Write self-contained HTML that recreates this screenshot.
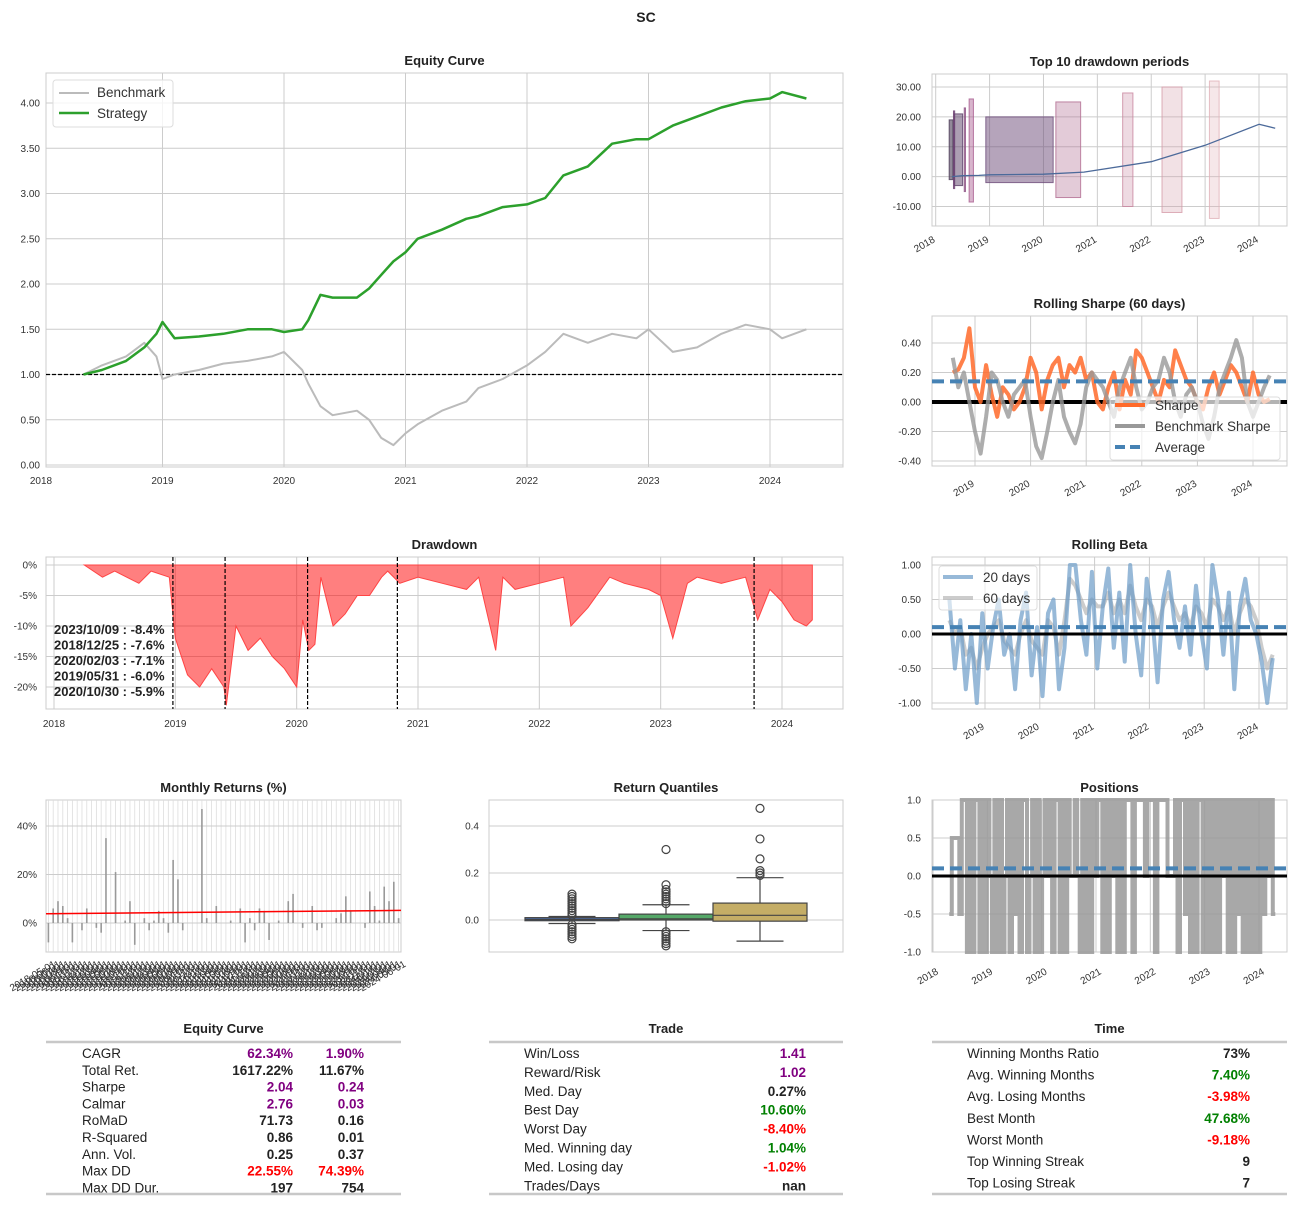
<!DOCTYPE html>
<html><head><meta charset="utf-8"><style>
html,body{margin:0;padding:0;background:#fff;}
svg{display:block;font-family:"Liberation Sans",Arial,sans-serif;}
.tk{font-size:10px;fill:#333;}
.tt{font-size:13px;font-weight:bold;fill:#222;}
.tb{font-size:13.5px;fill:#222;font-family:"Liberation Sans Narrow","Liberation Sans",sans-serif;}
.tbb{font-weight:bold;}
</style></head><body>
<svg id="s" width="1295" height="1205" viewBox="0 0 1295 1205" xmlns="http://www.w3.org/2000/svg">
<text x="646" y="22" text-anchor="middle" style="font-size:14px;font-weight:bold" fill="#222">SC</text>
</svg>
<script>
// ===== data =====
const yearTicks = [2018,2019,2020,2021,2022,2023,2024];
const eqDates = [2018.35,2018.5,2018.7,2018.85,2018.95,2019.0,2019.1,2019.3,2019.5,2019.7,2019.9,2020.0,2020.15,2020.2,2020.3,2020.4,2020.6,2020.7,2020.8,2020.9,2021.0,2021.1,2021.3,2021.5,2021.6,2021.8,2022.0,2022.15,2022.3,2022.5,2022.7,2022.9,2023.0,2023.2,2023.4,2023.6,2023.8,2024.0,2024.1,2024.3];
const eqStrategy = [1.0,1.05,1.15,1.3,1.45,1.58,1.4,1.42,1.45,1.5,1.5,1.47,1.5,1.6,1.88,1.85,1.85,1.95,2.1,2.25,2.35,2.5,2.6,2.72,2.75,2.85,2.88,2.95,3.2,3.3,3.55,3.6,3.6,3.75,3.85,3.95,4.02,4.05,4.12,4.05];
const eqBenchmark = [1.0,1.1,1.2,1.35,1.2,0.95,1.0,1.05,1.12,1.15,1.2,1.25,1.05,0.9,0.65,0.55,0.6,0.5,0.3,0.22,0.35,0.45,0.6,0.7,0.85,0.95,1.1,1.25,1.45,1.35,1.45,1.4,1.5,1.25,1.3,1.45,1.55,1.5,1.4,1.5];
const eqTicks = [0,0.5,1,1.5,2,2.5,3,3.5,4];

const ddDates = [2018.3,2018.5,2018.8,2019.0,2019.5,2020.0,2020.75,2022.0,2023.0,2024.0,2024.3];
const ddCum = [0,0.3,0.4,0.6,0.7,0.8,1.5,5,10.5,17.5,16.2];
const ddPeriodStart = [2018.25,2018.34,2018.33,2018.53,2018.62,2018.93,2020.23,2021.47,2022.2,2023.08];
const ddPeriodEnd = [2018.32,2018.5,2018.35,2018.55,2018.7,2020.18,2020.69,2021.66,2022.57,2023.26];
const ddPeriodLow = [-1,-3,-4,-5,-8.5,-2,-7,-10,-12,-14];
const ddPeriodHigh = [19,21,22,23,26,20,25,28,30,32];
const ddTicks = [-10,0,10,20,30];

const shStart = 2018.6, shStep = 0.1;
const sharpeStrat = [0.2,0.22,0.3,0.5,0.1,0.0,0.25,0.05,-0.1,0.1,0.05,-0.05,0.0,0.1,0.3,0.2,-0.05,0.15,0.25,0.3,0.1,0.25,0.2,0.3,0.15,0.2,0.0,-0.05,0.1,0.2,-0.05,0.15,0.05,0.35,0.3,0.2,0.1,0.0,0.15,0.1,0.35,0.25,0.15,0.1,0.0,-0.05,0.1,0.2,0.05,0.15,0.25,0.2,0.1,0.0,0.2,0.05,0.0,0.02];
const sharpeBench = [0.3,0.1,0.2,0.0,-0.2,-0.35,-0.1,0.2,0.15,0.0,-0.1,0.05,0.1,0.15,-0.1,-0.3,-0.38,-0.2,0.0,0.15,-0.1,-0.2,-0.28,-0.15,0.1,0.2,0.15,0.1,0.0,-0.1,0.1,0.2,0.3,0.1,-0.05,0.0,0.1,0.15,0.3,0.2,0.0,-0.1,0.05,0.1,0.0,-0.15,-0.25,-0.1,0.1,0.2,0.3,0.42,0.3,0.0,-0.1,0.0,0.1,0.18];
const sharpeAvg = 0.14;
const shTicks = [-0.4,-0.2,0,0.2,0.4];

const drawDates = [2018.25,2018.4,2018.5,2018.7,2018.8,2018.95,2019.0,2019.1,2019.2,2019.3,2019.4,2019.42,2019.5,2019.6,2019.7,2019.8,2019.9,2020.0,2020.05,2020.1,2020.15,2020.2,2020.3,2020.4,2020.5,2020.6,2020.7,2020.75,2020.85,2021.0,2021.2,2021.4,2021.5,2021.64,2021.7,2021.8,2022.0,2022.2,2022.26,2022.4,2022.58,2022.7,2022.9,2023.0,2023.1,2023.22,2023.3,2023.5,2023.7,2023.8,2023.9,2024.0,2024.1,2024.2,2024.25];
const drawValues = [0,-2,-1,-3,-1,-2,-12,-18,-20,-17,-20,-23,-10,-14,-12,-15,-17,-20,-9,-14,-13,-2,-10,-8,-5,-5,-2,-1,-3,-2,-3,-4,-2,-14,-2,-4,-3,-2,-10,-7,-2,-3,-4,-5,-12,-3,-2,-3,-2,-9,-4,-6,-9,-10,-9];
const drawMarks = [2018.98,2019.41,2020.09,2020.83,2023.77];
const drawLabels = ["2023/10/09 : -8.4%","2018/12/25 : -7.6%","2020/02/03 : -7.1%","2019/05/31 : -6.0%","2020/10/30 : -5.9%"];
const drawTicks = [0,-5,-10,-15,-20];

const betaStart = 2018.35, betaStep = 0.1;
const beta20 = [0.5,-0.5,0.2,-0.8,0.0,-1.0,0.3,-0.5,0.1,0.5,-0.3,0.0,-0.8,0.2,0.6,-0.6,0.1,-0.9,0.3,0.5,-0.8,-0.2,1.0,1.0,0.2,-0.3,0.9,-0.5,0.4,0.95,-0.2,0.6,-0.4,1.0,0.0,-0.6,0.8,0.3,-0.7,0.5,0.9,0.2,-0.2,0.4,-0.3,0.7,0.0,-0.5,1.0,0.5,-0.3,0.6,-0.8,0.4,0.8,0.2,0.0,-0.4,-1.0,-0.35];
const beta60 = [0.2,0.0,0.1,-0.3,-0.2,-0.5,-0.2,0.0,0.1,0.2,-0.1,-0.2,-0.3,0.0,0.2,-0.1,-0.2,-0.3,0.2,0.1,-0.3,0.2,0.8,0.7,0.5,0.3,0.5,0.4,0.4,0.6,0.3,0.5,0.3,0.7,0.4,0.2,0.5,0.4,0.1,0.4,0.6,0.4,0.2,0.3,0.1,0.4,0.3,0.1,0.5,0.4,0.2,0.4,0.0,0.3,0.5,0.4,0.2,-0.2,-0.5,-0.3];
const betaAvg = 0.1;
const betaTicks = [-1,-0.5,0,0.5,1];

const monthly = [-8,6,9,7,2,-8,0,-3,6,0,-2,-4,35,0,21,0,1,9,-9,0,2,-3,1,5,2,-4,26,18,-3,0,0,0,47,2,0,7,0,0,1,0,6,-8,2,-3,6,5,-7,0,1,0,9,12,0,-2,0,7,-3,-2,0,0,2,4,11,5,0,0,-2,13,7,1,15,9,17,2];
const monthlyTrendStart = 3.8, monthlyTrendEnd = 5.2;
const monthlyTicks = [0,20,40];

const qCats = ["Daily","Weekly","Monthly"];
const qLow = [-0.015,-0.045,-0.09];
const qQ1 = [-0.003,0.0,-0.005];
const qMed = [0.002,0.005,0.02];
const qQ3 = [0.01,0.025,0.072];
const qHigh = [0.015,0.065,0.18];
const qOutliers = [[-0.08,-0.07,-0.06,-0.05,-0.04,-0.03,-0.02,0.02,0.03,0.04,0.05,0.06,0.07,0.08,0.09,0.1,0.11],[-0.11,-0.1,-0.09,-0.08,-0.07,-0.06,-0.05,0.07,0.08,0.09,0.1,0.11,0.12,0.13,0.15,0.3],[0.19,0.2,0.21,0.26,0.345,0.475]];
const qTicks = [0,0.2,0.4];

const posStart = 2018.3, posEnd = 2024.3;
const positions = [-0.5,0.5,0.5,0.5,-0.5,1,1,-1,1,-1,1,1,-1,1,-1,1,0,-1,1,-1,1,-1,0,1,-1,1,-0.5,1,-1,1,1,-1,0,1,-1,1,-1,0,1,0,1,-1,1,1,-1,1,-1,1,0,0,1,0,-1,1,-1,1,-1,1,0,1,1,-1,1,-1,1,0,1,-1,1,-1,1,1,1,-1,1,1,1,1,0,1,1,1,-1,1,1,1,1,0,0,0,1,-1,1,1,-0.5,1,-1,1,-1,1,1,-1,1,-1,1,-1,1,-1,1,0,1,-1,1,-1,1,-0.5,1,-1,1,-1,1,-1,1,-1,1,-0.5,1,0,1,-0.5,-0.5];
const posAvg = 0.1;
const posTicks = [-1,-0.5,0,0.5,1];

// ===== helpers =====
const S = document.getElementById('s');
const NS = 'http://www.w3.org/2000/svg';
function mk(tag, attrs, parent){const e=document.createElementNS(NS,tag);for(const k in attrs)e.setAttribute(k,attrs[k]);(parent||S).appendChild(e);return e;}
function txt(x,y,s,cls,anchor,extra){const e=mk('text',Object.assign({x:x,y:y,class:cls,'text-anchor':anchor||'start'},extra||{}));e.textContent=s;return e;}
function lin(a,b,c,d,col,w,dash){const e=mk('line',{x1:a,y1:b,x2:c,y2:d,stroke:col,'stroke-width':w});if(dash)e.setAttribute('stroke-dasharray',dash);return e;}
function scale(d0,d1,r0,r1){return v=>r0+(v-d0)*(r1-r0)/(d1-d0);}
function poly(xs,ys,col,w,op,name,g){const p=xs.map((x,i)=>x.toFixed(1)+','+ys[i].toFixed(1)).join(' ');const e=mk('polyline',{points:p,fill:'none',stroke:col,'stroke-width':w,'stroke-opacity':op,'stroke-linejoin':'round'},g);return e;}
function frame(x0,y0,x1,y1,title,name){
  const g=mk('g',{});
  
  
  mk('rect',{x:x0,y:y0,width:x1-x0,height:y1-y0,fill:'#fff',stroke:'#ccc','stroke-width':1},g);
  const t=txt((x0+x1)/2,y0-8,title,'tt','middle');
  
  
  return g;
}

// ===== Equity curve =====
(function(){
  const g=frame(46,73,843,467,'Equity Curve','equity-curve-chart');
  const X=scale(2018,2024,41,770), Y=scale(0,4,465,103);
  yearTicks.forEach(t=>{if(X(t)>46)lin(X(t),73,X(t),467,'#ccc',1);const l=txt(X(t),484,String(t),'tk','middle');});
  eqTicks.forEach(t=>{lin(46,Y(t),843,Y(t),'#ccc',1);const l=txt(40,Y(t)+3.5,t.toFixed(2),'tk','end');});
  const b=lin(46,Y(1),843,Y(1),'#000',1.2,'4,2');
  const pb=poly(eqDates.map(X),eqBenchmark.map(Y),'#bbb',2,1);
  
  const ps=poly(eqDates.map(X),eqStrategy.map(Y),'#2ca02c',2.5,1);
  
  const lg=mk('g',{});
  mk('rect',{x:53,y:80,width:120,height:47,rx:3,fill:'#fff','fill-opacity':0.8,stroke:'#ddd'},lg);
  lin(59,93,89,93,'#bbb',2);lin(59,113,89,113,'#2ca02c',2.5);
  txt(97,97,'Benchmark','tk','start',{style:'font-size:13.5px'});txt(97,118,'Strategy','tk','start',{style:'font-size:13.5px'});
})();

// ===== Top 10 drawdown periods =====
(function(){
  frame(932,74,1287,226,'Top 10 drawdown periods','drawdown-periods-chart');
  const X=scale(2018,2024,935.7,1259), Y=scale(-10,30,206.5,87);
  yearTicks.forEach(t=>{lin(X(t),74,X(t),226,'#ccc',1);txt(X(t)-2,246,String(t),'tk','end',{transform:`rotate(-30 ${X(t)-2} 238)`,y:242});});
  ddTicks.forEach(t=>{lin(932,Y(t),1287,Y(t),'#ccc',1);txt(921,Y(t)+3.5,t.toFixed(2),'tk','end');});
  const cols=['#4a3a55','#5a3e66','#6a3f70','#8a4b80','#a85b8e','#6b4a78','#b06a90','#c8849e','#d49aa8','#e0b0b6'];
  const ops=[0.6,0.5,0.6,0.5,0.45,0.5,0.35,0.3,0.3,0.3];
  ddPeriodStart.forEach((s,i)=>{const r=mk('rect',{x:X(s),y:Y(ddPeriodHigh[i]),width:Math.max(1.2,X(ddPeriodEnd[i])-X(s)),height:Y(ddPeriodLow[i])-Y(ddPeriodHigh[i]),fill:cols[i],'fill-opacity':ops[i],stroke:cols[i],'stroke-opacity':0.8});});
  const p=poly(ddDates.map(X),ddCum.map(Y),'#4c6a9a',1.3,1);
})();

// ===== Rolling Sharpe =====
(function(){
  frame(932,316,1287,466,'Rolling Sharpe (60 days)','rolling-sharpe-chart');
  const X=scale(2019,2024,975,1253), Y=scale(-0.4,0.4,461,343);
  yearTicks.slice(1).forEach(t=>{lin(X(t),316,X(t),466,'#ccc',1);txt(X(t)-2,490,String(t),'tk','end',{transform:`rotate(-30 ${X(t)-2} 482)`,y:486});});
  shTicks.forEach(t=>{lin(932,Y(t),1287,Y(t),'#ccc',1);txt(921,Y(t)+3.5,t.toFixed(2),'tk','end');});
  const d=sharpeStrat.map((v,i)=>X(shStart+i*shStep));
  lin(932,Y(0),1287,Y(0),'#000',4);
  const a=poly(d,sharpeStrat.map(Y),'#ff6a2a',4,0.85);
  const b=poly(d,sharpeBench.map(Y),'#999',4,0.8);
  const av=lin(932,Y(sharpeAvg),1287,Y(sharpeAvg),'#4682b4',4,'12,6');
  const lg=mk('g',{});
  mk('rect',{x:1110,y:397,width:170,height:63,rx:3,fill:'#fff','fill-opacity':0.7,stroke:'#ddd'},lg);
  lin(1115,405,1145,405,'#ff6a2a',4);lin(1115,426,1145,426,'#999',4);lin(1115,447,1145,447,'#4682b4',4,'10,5');
  txt(1155,410,'Sharpe','tk','start',{style:'font-size:13.5px'});txt(1155,431,'Benchmark Sharpe','tk','start',{style:'font-size:13.5px'});txt(1155,452,'Average','tk','start',{style:'font-size:13.5px'});
})();

// ===== Drawdown =====
(function(){
  frame(46,557,843,709,'Drawdown','drawdown-chart');
  const X=scale(2018,2024,54,782), Y=scale(-20,0,687,565);
  yearTicks.forEach(t=>{lin(X(t),557,X(t),709,'#ccc',1);txt(X(t),727,String(t),'tk','middle');});
  drawTicks.forEach(t=>{lin(46,Y(t),843,Y(t),'#ccc',1);txt(37,Y(t)+3.5,t+'%','tk','end');});
  let d='M'+X(drawDates[0])+','+Y(0);
  drawDates.forEach((t,i)=>{d+=' L'+X(t).toFixed(1)+','+Y(drawValues[i]).toFixed(1);});
  d+=' L'+X(drawDates[drawDates.length-1])+','+Y(0)+' Z';
  const a=mk('path',{d:d,fill:'#ff0000','fill-opacity':0.5,stroke:'#ff4444','stroke-width':1});
  drawMarks.forEach(t=>{const l=lin(X(t),557,X(t),709,'#000',1.2,'4,2');});
  drawLabels.forEach((s,i)=>{const e=txt(54,634+i*15.5,s,'tk tbb','start',{style:'font-size:13px;fill:#222;font-weight:bold'});});
})();

// ===== Rolling Beta =====
(function(){
  frame(932,557,1287,709,'Rolling Beta','rolling-beta-chart');
  const X=scale(2019,2024,985,1259), Y=scale(-1,1,703,565);
  yearTicks.slice(1).forEach(t=>{lin(X(t),557,X(t),709,'#ccc',1);txt(X(t)-2,733,String(t),'tk','end',{transform:`rotate(-30 ${X(t)-2} 725)`,y:729});});
  betaTicks.forEach(t=>{lin(932,Y(t),1287,Y(t),'#ccc',1);txt(921,Y(t)+3.5,t.toFixed(2),'tk','end');});
  const d=beta20.map((v,i)=>X(betaStart+i*betaStep));
  const b=poly(d,beta60.map(Y),'#aaa',4,0.6);
  const a=poly(d,beta20.map(Y),'#6b9bc8',4,0.7);
  const av=lin(932,Y(betaAvg),1287,Y(betaAvg),'#4682b4',4,'12,6');
  lin(932,Y(0),1287,Y(0),'#000',3);
  const lg=mk('g',{});
  mk('rect',{x:939,y:566,width:98,height:44,rx:3,fill:'#fff','fill-opacity':0.6,stroke:'#ddd'},lg);
  lin(943,577,973,577,'#6b9bc8',4).setAttribute('stroke-opacity',0.7);lin(943,598,973,598,'#aaa',4).setAttribute('stroke-opacity',0.6);
  txt(983,582,'20 days','tk','start',{style:'font-size:13.5px'});txt(983,603,'60 days','tk','start',{style:'font-size:13.5px'});
})();

// ===== Monthly returns =====
(function(){
  frame(46,800,401,952,'Monthly Returns (%)','monthly-returns-chart');
  const n=monthly.length, w=355/n;
  const X=i=>46+w*(i+0.5), Y=scale(0,40,923,826);
  monthly.forEach((v,i)=>{lin(X(i),800,X(i),952,'#ddd',0.8);});
  monthlyTicks.forEach(t=>{lin(46,Y(t),401,Y(t),'#ccc',1);txt(37,Y(t)+3.5,t+'%','tk','end');});
  monthly.forEach((v,i)=>{const r=mk('rect',{x:X(i)-0.8,y:Math.min(Y(v),Y(0)),width:1.6,height:Math.abs(Y(v)-Y(0)),fill:'#999'});});
  const tl=lin(46,Y(monthlyTrendStart),401,Y(monthlyTrendEnd),'#ff0000',1.5);
  monthly.forEach((v,i)=>{const yr=2018+Math.floor((i+4)/12), mo=((i+4)%12)+1;const x=X(i)+8;txt(x,966,yr+'-'+(mo<10?'0':'')+mo+'-01','tk','end',{transform:`rotate(-30 ${x} 966)`,style:'font-size:10px;fill:#333'});});
})();

// ===== Return quantiles =====
(function(){
  frame(489,800,843,952,'Return Quantiles','return-quantiles-chart');
  const Y=scale(0,0.4,920,826), X=i=>572+94*i, bw=94;
  qTicks.forEach(t=>{lin(489,Y(t),843,Y(t),'#ccc',1);txt(479,Y(t)+3.5,t.toFixed(1),'tk','end');});
  const cols=['#4c72b0','#55a868','#c4ad66'];
  qCats.forEach((c,i)=>{
    const g=mk('g',{});
    const cx=X(i);
    lin(cx,Y(qLow[i]),cx,Y(qQ1[i]),'#444',1.2);lin(cx,Y(qQ3[i]),cx,Y(qHigh[i]),'#444',1.2);
    lin(cx-bw/4,Y(qLow[i]),cx+bw/4,Y(qLow[i]),'#444',1.2);lin(cx-bw/4,Y(qHigh[i]),cx+bw/4,Y(qHigh[i]),'#444',1.2);
    mk('rect',{x:cx-bw/2,y:Y(qQ3[i]),width:bw,height:Math.max(1,Y(qQ1[i])-Y(qQ3[i])),fill:cols[i],stroke:'#444','stroke-width':1.2},g);
    lin(cx-bw/2,Y(qMed[i]),cx+bw/2,Y(qMed[i]),'#444',1.2);
    qOutliers[i].forEach(o=>{mk('circle',{cx:cx,cy:Y(o),r:4,fill:'none',stroke:'#444','stroke-width':1.2},g);});
  });
})();

// ===== Positions =====
(function(){
  frame(932,800,1287,952,'Positions','positions-chart');
  const X=scale(2018,2024,933,1259), Y=scale(-1,1,952,800);
  const step=(posEnd-posStart)/(positions.length-1);
  yearTicks.forEach(t=>{lin(X(t),800,X(t),952,'#ccc',1);txt(X(t)+4,978,String(t),'tk','end',{transform:`rotate(-30 ${X(t)+4} 970)`,y:974});});
  posTicks.forEach(t=>{lin(932,Y(t),1287,Y(t),'#ccc',1);txt(921,Y(t)+3.5,t.toFixed(1),'tk','end');});
  let d='';
  positions.forEach((v,i)=>{const x=X(posStart+i*step);d+=(i?' L'+x.toFixed(1)+','+Y(positions[i-1]).toFixed(1)+' L':'M')+x.toFixed(1)+','+Y(v).toFixed(1);});
  const p=mk('path',{d:d,fill:'none',stroke:'#999','stroke-width':4,'stroke-opacity':0.85});
  const av=lin(932,Y(posAvg),1287,Y(posAvg),'#4682b4',4,'12,6');
  lin(932,Y(0),1287,Y(0),'#000',3);
})();

// ===== Tables =====
function table(x0,x1,title,rows,labelX,rowY0,rowH,name){
  const g=mk('g',{});
  txt((x0+x1)/2,1033,title,'tt','middle');
  lin(x0,1042,x1,1042,'#c8c8c8',2.5);lin(x0,1194,x1,1194,'#c8c8c8',2.5);
  rows.forEach((r,i)=>{const y=rowY0+i*rowH;txt(labelX,y,r[0],'tb');r.slice(1).forEach(c=>{const e=txt(c[0],y,c[1],'tb tbb','end');e.style.fill=c[2];});});
}
const P='#800080',G='#008000',R='#ff0000',K='#222';
table(46,401,'Equity Curve',[
 ['CAGR',[293,'62.34%',P],[364,'1.90%',P]],
 ['Total Ret.',[293,'1617.22%',K],[364,'11.67%',K]],
 ['Sharpe',[293,'2.04',P],[364,'0.24',P]],
 ['Calmar',[293,'2.76',P],[364,'0.03',P]],
 ['RoMaD',[293,'71.73',K],[364,'0.16',K]],
 ['R-Squared',[293,'0.86',K],[364,'0.01',K]],
 ['Ann. Vol.',[293,'0.25',K],[364,'0.37',K]],
 ['Max DD',[293,'22.55%',R],[364,'74.39%',R]],
 ['Max DD Dur.',[293,'197',K],[364,'754',K]]],82,1058,16.8,'equity-stats-table');
table(489,843,'Trade',[
 ['Win/Loss',[806,'1.41',P]],['Reward/Risk',[806,'1.02',P]],['Med. Day',[806,'0.27%',K]],['Best Day',[806,'10.60%',G]],
 ['Worst Day',[806,'-8.40%',R]],['Med. Winning day',[806,'1.04%',G]],['Med. Losing day',[806,'-1.02%',R]],['Trades/Days',[806,'nan',K]]],524,1058,18.9,'trade-stats-table');
table(932,1287,'Time',[
 ['Winning Months Ratio',[1250,'73%',K]],['Avg. Winning Months',[1250,'7.40%',G]],['Avg. Losing Months',[1250,'-3.98%',R]],
 ['Best Month',[1250,'47.68%',G]],['Worst Month',[1250,'-9.18%',R]],['Top Winning Streak',[1250,'9',K]],['Top Losing Streak',[1250,'7',K]]],967,1058,21.6,'time-stats-table');
</script>
</body></html>
